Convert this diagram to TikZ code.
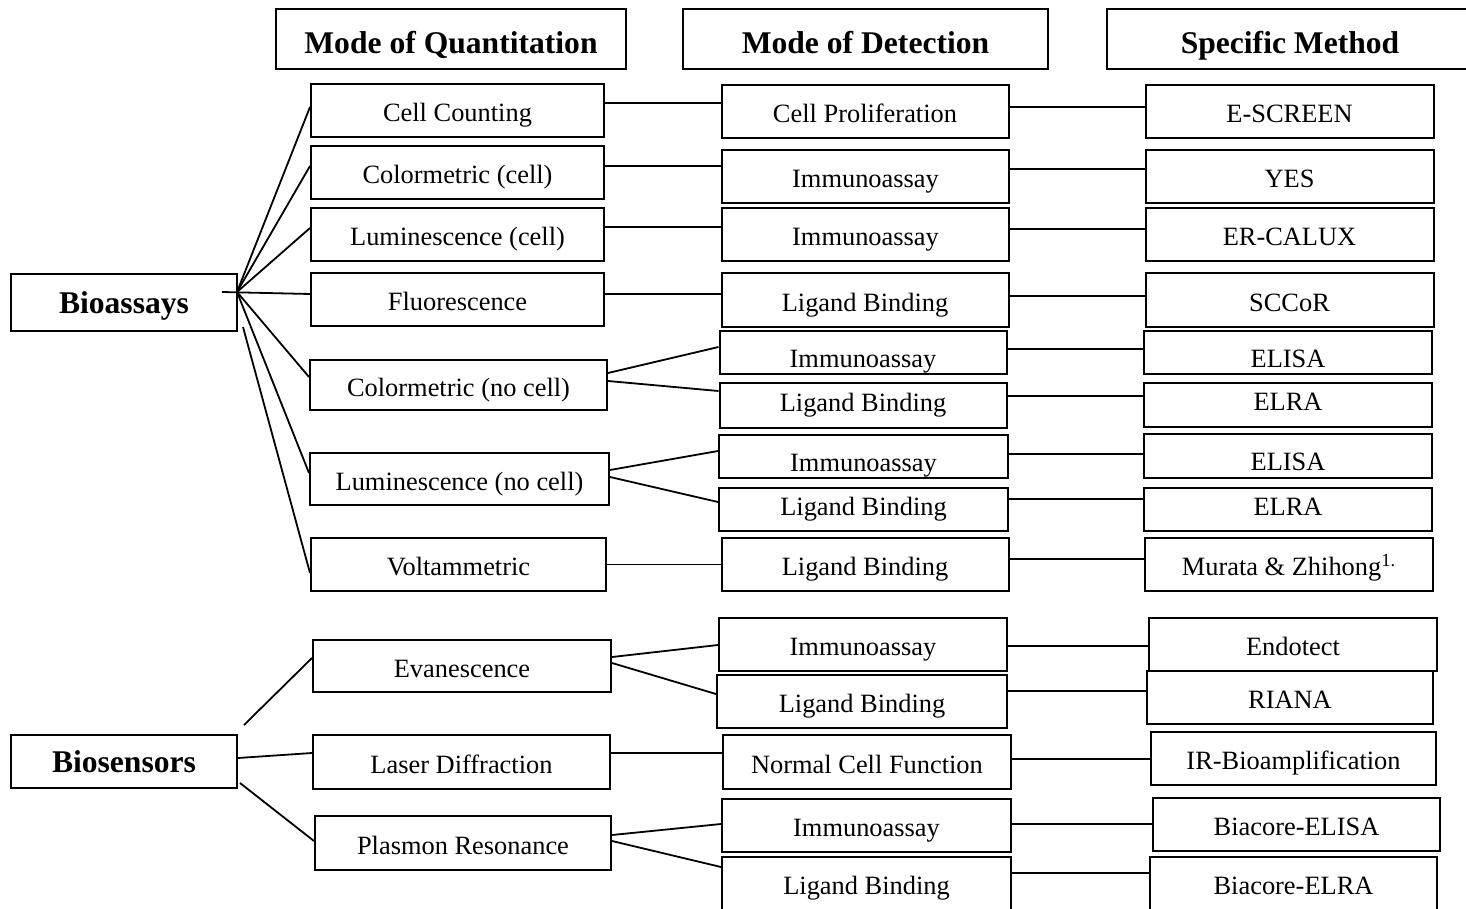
\documentclass[tikz,border=0pt]{standalone}
\usepackage{fontspec}
\setmainfont{Liberation Serif}
\usetikzlibrary{positioning,calc}

\begin{document}
\begin{tikzpicture}[
    x=0.5pt, y=-0.5pt, % one unit = one pixel of the layout, y downwards
    header/.style={draw, line width=1pt, inner sep=0pt, minimum height=30pt, text height=14.2pt, text depth=0pt, font=\fontsize{15.8}{18}\selectfont\bfseries},
    root/.style={draw, line width=1pt, inner sep=0pt, minimum width=113pt, minimum height=28pt, text height=10.7pt, text depth=0pt, font=\fontsize{15.8}{18}\selectfont\bfseries},
    quant/.style={draw, line width=1pt, inner sep=0pt, minimum width=146.5pt, minimum height=26.5pt, text height=11.2pt, text depth=0pt, font=\fontsize{13.2}{15}\selectfont},
    detect/.style={quant, minimum width=143.5pt},
    method/.style={quant, minimum width=144pt},
    halfup/.style={minimum height=21.75pt, text height=14.7pt, text depth=0pt},
    halfdown/.style={minimum height=21.75pt, text height=8.7pt, text depth=3.2pt},
    link/.style={line width=0.9pt}
]
    \useasboundingbox (0,0) rectangle (1466,909);

    % --- Column headers ---
    \node[header, minimum width=175pt] (hd-quant) at (451,39) {Mode of Quantitation};
    \node[header, minimum width=182.5pt] (hd-detect) at (865.5,39) {Mode of Detection};
    \node[header, minimum width=183pt] (hd-method) at (1290,39) {Specific Method};

    % --- Roots ---
    \node[root, minimum height=28.5pt] (bioassays) at (124,302.5) {Bioassays};
    \node[root, minimum height=26.5pt] (biosensors) at (124,761.5) {Biosensors};

    % --- Mode of quantitation ---
    \node[quant] (cellcount) at (457.5,110.5) {Cell Counting};
    \node[quant] (colcell) at (457.5,172.5) {Colormetric (cell)};
    \node[quant] (lumcell) at (457.5,234.5) {Luminescence (cell)};
    \node[quant] (fluor) at (457.5,299.5) {Fluorescence};
    \node[quant, minimum width=148.5pt, minimum height=25pt] (colnocell) at (458.5,385) {Colormetric (no cell)};
    \node[quant, minimum width=149.5pt, minimum height=26pt] (lumnocell) at (459.5,479) {Luminescence (no cell)};
    \node[quant, minimum width=147.5pt] (voltam) at (458.5,564.5) {Voltammetric};
    \node[quant, minimum width=149pt, minimum height=26pt] (evan) at (462,666) {Evanescence};
    \node[quant, minimum width=148.5pt, minimum height=27pt] (laser) at (461.5,762) {Laser Diffraction};
    \node[quant, minimum width=148pt, minimum height=27pt] (plasmon) at (463,843) {Plasmon Resonance};

    % --- Mode of detection ---
    \node[detect] (cellprolif) at (865,111.5) {Cell Proliferation};
    \node[detect] (imm-cell) at (865.5,176.5) {Immunoassay};
    \node[detect] (imm-lum) at (865.5,234.5) {Immunoassay};
    \node[detect, minimum height=27pt] (lig-fluor) at (865,300) {Ligand Binding};
    \node[detect, halfup] (imm-cnc) at (863,352.5) {Immunoassay};
    \node[detect, halfdown, minimum height=22.5pt] (lig-cnc) at (863,405.5) {Ligand Binding};
    \node[detect, halfup, minimum width=144.5pt] (imm-lnc) at (863.5,456.5) {Immunoassay};
    \node[detect, halfdown, minimum width=144.5pt] (lig-lnc) at (863.5,509.5) {Ligand Binding};
    \node[detect] (lig-volt) at (865,564.5) {Ligand Binding};
    \node[detect, minimum width=144pt] (imm-evan) at (863,644.5) {Immunoassay};
    \node[detect, minimum width=145pt] (lig-evan) at (862,701.5) {Ligand Binding};
    \node[detect, minimum width=144pt, minimum height=27pt] (normal) at (867,762) {Normal Cell Function};
    \node[detect, minimum width=144.5pt] (imm-plas) at (866.5,825.5) {Immunoassay};
    \node[detect, minimum width=144.5pt] (lig-plas) at (866.5,883.5) {Ligand Binding};

    % --- Specific method ---
    \node[method] (escreen) at (1289.5,111.5) {E-SCREEN};
    \node[method] (yes) at (1289.5,176.5) {YES};
    \node[method] (ercalux) at (1289.5,234.5) {ER-CALUX};
    \node[method, minimum height=27pt] (sccor) at (1289.5,300) {SCCoR};
    \node[method, halfup] (elisa-c) at (1288,352.5) {ELISA};
    \node[method, halfdown, minimum height=22pt] (elra-c) at (1288,405) {ELRA};
    \node[method, halfup, minimum height=22pt] (elisa-l) at (1288,456) {ELISA};
    \node[method, halfdown] (elra-l) at (1288,509.5) {ELRA};
    \node[method] (murata) at (1289,564.5) {Murata \& Zhihong\textsuperscript{1.}};
    \node[method] (endotect) at (1293,644.5) {Endotect};
    \node[method, minimum width=143pt] (riana) at (1290,697.5) {RIANA};
    \node[method, minimum width=142.5pt] (irbio) at (1293.5,758.5) {IR-Bioamplification};
    \node[method, minimum width=143.5pt] (bia-elisa) at (1296.5,824.5) {Biacore-ELISA};
    \node[method, minimum width=143.5pt] (bia-elra) at (1293.5,883) {Biacore-ELRA};

    % --- Bioassays fan ---
    \coordinate (bfan) at (237,292);
    \draw[link] (bfan) -- ($(cellcount.west)+(0,-3.5)$);
    \draw[link] (bfan) -- ($(colcell.west)+(0,-6.5)$);
    \draw[link] (bfan) -- ($(lumcell.west)+(0,-6.5)$);
    \draw[link] ($(bfan)+(-15,0)$) -- ($(fluor.west)+(0,-5.5)$);
    \draw[link] (bfan) -- ($(colnocell.west)+(0,-8)$);
    \draw[link] (bfan) -- ($(lumnocell.west)+(0,-6)$);
    \draw[link] ($(bioassays.south east)+(5,-5)$) -- ($(voltam.west)+(0,8.5)$);

    % --- Biosensors fan ---
    \draw[link] ($(biosensors.north east)+(6,-9)$) -- ($(evan.west)+(0,-8)$);
    \draw[link] ($(biosensors.east)+(0,-3.5)$) -- ($(laser.west)+(0,-9)$);
    \draw[link] ($(biosensors.east)+(2,21.5)$) -- ($(plasmon.west)+(0,-2)$);

    % --- Quantitation to detection ---
    \draw[link] ($(cellcount.east)+(0,-7.5)$) -- ($(cellprolif.west)+(0,-8.5)$);
    \draw[link] ($(colcell.east)+(0,-6.5)$) -- ($(imm-cell.west)+(0,-10.5)$);
    \draw[link] ($(lumcell.east)+(0,-7.5)$) -- ($(imm-lum.west)+(0,-7.5)$);
    \draw[link] ($(fluor.east)+(0,-5.5)$) -- ($(lig-fluor.west)+(0,-6)$);
    \draw[link] ($(colnocell.east)+(0,-12)$) -- ($(imm-cnc.west)+(0,-5.5)$);
    \draw[link] ($(colnocell.east)+(0,-4)$) -- ($(lig-cnc.west)+(0,-14.5)$);
    \draw[link] ($(lumnocell.east)+(0,-9)$) -- ($(imm-lnc.west)+(0,-5.5)$);
    \draw[link] ($(lumnocell.east)+(0,-2)$) -- ($(lig-lnc.west)+(0,-7.5)$);
    \draw[link] (voltam.east) -- (lig-volt.west);
    \draw[link] ($(evan.east)+(0,-9)$) -- ($(imm-evan.west)+(0,0.5)$);
    \draw[link] ($(evan.east)+(0,-3)$) -- ($(lig-evan.west)+(0,-7.5)$);
    \draw[link] ($(laser.east)+(0,-9)$) -- ($(normal.west)+(0,-9)$);
    \draw[link] ($(plasmon.east)+(0,-8)$) -- ($(imm-plas.west)+(0,-1.5)$);
    \draw[link] ($(plasmon.east)+(0,-2)$) -- ($(lig-plas.west)+(0,-16.5)$);

    % --- Detection to method ---
    \draw[link] ($(cellprolif.east)+(0,-4.5)$) -- ($(escreen.west)+(0,-4.5)$);
    \draw[link] ($(imm-cell.east)+(0,-7.5)$) -- ($(yes.west)+(0,-7.5)$);
    \draw[link] ($(imm-lum.east)+(0,-5.5)$) -- ($(ercalux.west)+(0,-5.5)$);
    \draw[link] ($(lig-fluor.east)+(0,-4)$) -- ($(sccor.west)+(0,-4)$);
    \draw[link] ($(imm-cnc.east)+(0,-3.5)$) -- ($(elisa-c.west)+(0,-3.5)$);
    \draw[link] ($(lig-cnc.east)+(0,-9.5)$) -- ($(elra-c.west)+(0,-9)$);
    \draw[link] ($(imm-lnc.east)+(0,-2.5)$) -- ($(elisa-l.west)+(0,-2)$);
    \draw[link] ($(lig-lnc.east)+(0,-10.5)$) -- ($(elra-l.west)+(0,-10.5)$);
    \draw[link] ($(lig-volt.east)+(0,-5.5)$) -- ($(murata.west)+(0,-5.5)$);
    \draw[link] ($(imm-evan.east)+(0,1.5)$) -- ($(endotect.west)+(0,1.5)$);
    \draw[link] ($(lig-evan.east)+(0,-10.5)$) -- ($(riana.west)+(0,-6.5)$);
    \draw[link] ($(normal.east)+(0,-3)$) -- ($(irbio.west)+(0,0.5)$);
    \draw[link] ($(imm-plas.east)+(0,-1.5)$) -- ($(bia-elisa.west)+(0,-0.5)$);
    \draw[link] ($(lig-plas.east)+(0,-10.5)$) -- ($(bia-elra.west)+(0,-10)$);

\end{tikzpicture}
\end{document}
